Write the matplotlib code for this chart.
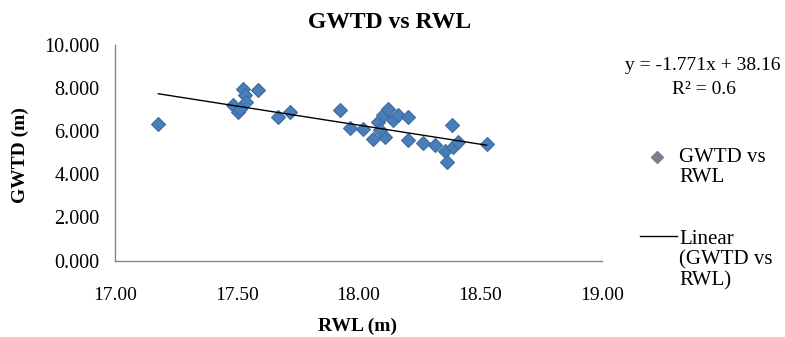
import matplotlib
matplotlib.use("Agg")
import matplotlib.pyplot as plt
from matplotlib.lines import Line2D
import numpy as np

plt.rcParams['font.family'] = ['Liberation Serif', 'DejaVu Serif']

rwl = [17.178, 17.486, 17.507, 17.527, 17.533, 17.540, 17.514, 17.589, 17.671, 17.719,
       17.924, 17.965, 18.019, 18.061, 18.082, 18.102, 18.122, 18.108, 18.089, 18.143,
       18.164, 18.204, 18.204, 18.266, 18.314, 18.355, 18.362, 18.383, 18.390, 18.410,
       18.526]
gwtd = [6.35, 7.20, 6.89, 7.98, 7.67, 7.36, 7.05, 7.93, 6.66, 6.89,
        7.00, 6.16, 6.12, 5.65, 6.42, 6.74, 7.05, 5.72, 6.04, 6.50,
        6.74, 6.66, 5.57, 5.45, 5.38, 5.10, 4.56, 6.27, 5.26, 5.49,
        5.42]
slope = -1.771
intercept = 38.16
r2 = 0.6
xticks = [17.00, 17.50, 18.00, 18.50, 19.00]
yticks = [0, 2, 4, 6, 8, 10]

fig = plt.figure(figsize=(7.85, 3.37), dpi=100)
ax = fig.add_axes([115/785, 1-260.5/337, (602-115)/785, (260.5-45)/337])

ax.plot(rwl, gwtd, linestyle='none', marker='D', markersize=7.5,
        markerfacecolor='#4a7ebb', markeredgecolor='#3d6d9e', markeredgewidth=0.8, zorder=3)
xl = np.array([min(rwl), max(rwl)])
ax.plot(xl, slope*xl + intercept, color='black', linewidth=1.0, zorder=4)

ax.set_xlim(17, 19)
ax.set_ylim(0, 10)
ax.set_xticks(xticks)
ax.set_xticklabels([f"{t:.2f}" for t in xticks], fontsize=14)
ax.set_yticks(yticks)
ax.set_yticklabels([f"{t:.3f}" for t in yticks], fontsize=14.5)
ax.tick_params(length=0)
ax.tick_params(axis='y', pad=11)
ax.tick_params(axis='x', pad=19)
for s in ['top', 'right']:
    ax.spines[s].set_visible(False)
for s in ['left', 'bottom']:
    ax.spines[s].set_color('#868686')
    ax.spines[s].set_linewidth(1.0)

fig.text(390/785, 1-22/337, "GWTD vs RWL", ha='center', va='center', fontsize=17, fontweight='bold')
fig.text(357/785, 1-326/337, "RWL (m)", ha='center', va='center', fontsize=14, fontweight='bold')
fig.text(20/785, 1-155/337, "GWTD (m)", ha='center', va='center', fontsize=14, fontweight='bold', rotation=90)

fig.text(703/785, 1-66/337, f"y = {slope}x + {intercept}", ha='center', va='center', fontsize=14)
fig.text(704/785, 1-89/337, f"R² = {r2}", ha='center', va='center', fontsize=14)

# legend
fig.add_artist(Line2D([656.7/785], [1-157/337], marker='D', markersize=6,
                      markerfacecolor='#7a7f8c', markeredgecolor='#7a7f8c', linestyle='none',
                      transform=fig.transFigure))
fig.text(679/785, 1-148/337, "GWTD vs\nRWL", ha='left', va='top', fontsize=15, linespacing=1.1)
fig.add_artist(Line2D([640/785, 677/785], [1-235.7/337, 1-235.7/337], color='black', linewidth=1.0,
                      transform=fig.transFigure))
fig.text(679/785, 1-230/337, "Linear\n(GWTD vs\nRWL)", ha='left', va='top', fontsize=15, linespacing=1.1)

fig.savefig("out.png", dpi=100, facecolor='white')
